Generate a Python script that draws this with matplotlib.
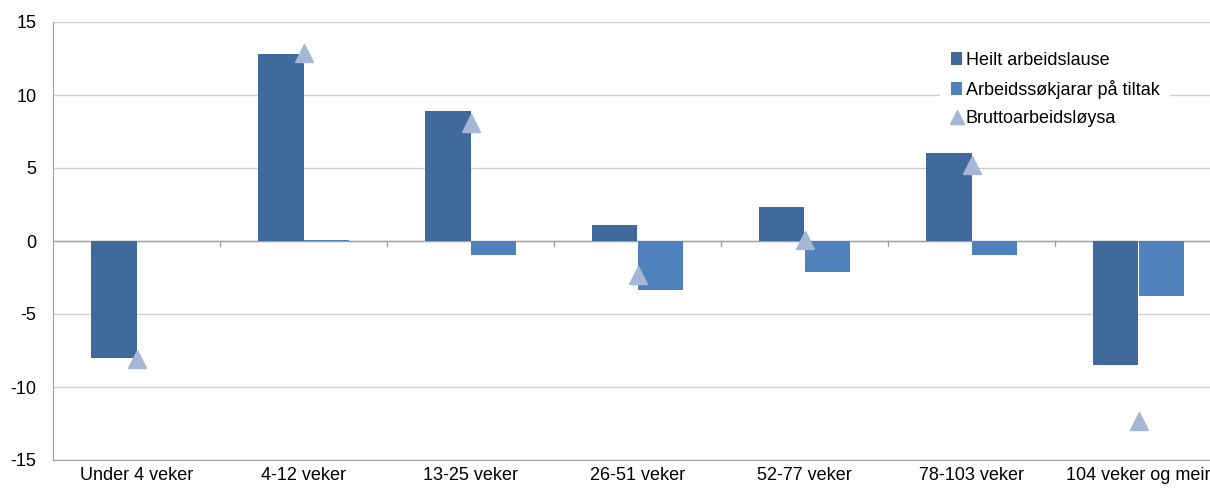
import numpy as np
import matplotlib.pyplot as plt

plt.rcParams['font.family'] = ['Liberation Sans', 'DejaVu Sans']
plt.rcParams['axes.unicode_minus'] = False

categories = ["Under 4 veker", "4-12 veker", "13-25 veker", "26-51 veker",
              "52-77 veker", "78-103 veker", "104 veker og meir"]
heilt = [-8.0, 12.8, 8.9, 1.1, 2.3, 6.0, -8.5]
tiltak = [0.0, 0.1, -0.95, -3.35, -2.1, -0.95, -3.75]
brutto = [-8.1, 12.9, 8.1, -2.3, 0.1, 5.2, -12.3]

fig = plt.figure(figsize=(12.1, 4.91), dpi=100)
ax = fig.add_axes([53 / 1210, 31 / 491, 1169 / 1210, 438 / 491])

x = np.arange(len(categories))
w = 0.275
b1 = ax.bar(x - w / 2, heilt, w, color='#406A9B', label='Heilt arbeidslause', zorder=2)
b2 = ax.bar(x + w / 2, tiltak, w, color='#4F81BD', label='Arbeidssøkjarar på tiltak', zorder=2)
m, = ax.plot(x, brutto, '^', color='#A6B6D6', markersize=13, linestyle='none',
             label='Bruttoarbeidsløysa', zorder=3)

ax.set_xlim(-0.5, len(categories) - 0.5)
ax.set_ylim(-15, 15)
ax.set_yticks(np.arange(-15, 16, 5))
ax.yaxis.grid(True, color='#D0D0D0', linewidth=1, zorder=0)
ax.set_axisbelow(True)
ax.axhline(0, color='#A0A0A0', linewidth=1, zorder=1)
for b in np.arange(0.5, len(categories) - 0.5, 1):
    ax.plot([b, b], [0, -0.35], color='#A0A0A0', linewidth=1, zorder=1)

for s in ['top', 'right']:
    ax.spines[s].set_visible(False)
ax.spines['left'].set_color('#A0A0A0')
ax.spines['bottom'].set_color('#A0A0A0')

ax.set_xticks(x)
ax.set_xticklabels(categories, fontsize=13)
ax.tick_params(axis='x', length=0, pad=5)
ax.tick_params(axis='y', length=0, labelsize=13, pad=12)

leg = ax.legend([b1, b2, m], [b1.get_label(), b2.get_label(), m.get_label()],
                loc='upper left', bbox_to_anchor=(0.756, 0.965), frameon=True,
                fontsize=13, handlelength=0.6, handletextpad=0.2,
                labelspacing=0.62, borderpad=0.3, markerscale=0.8)
leg.get_frame().set_facecolor('white')
leg.get_frame().set_edgecolor('none')
leg.get_frame().set_alpha(1)
leg.get_frame().set_boxstyle('square')

fig.savefig('out.png', dpi=100)
